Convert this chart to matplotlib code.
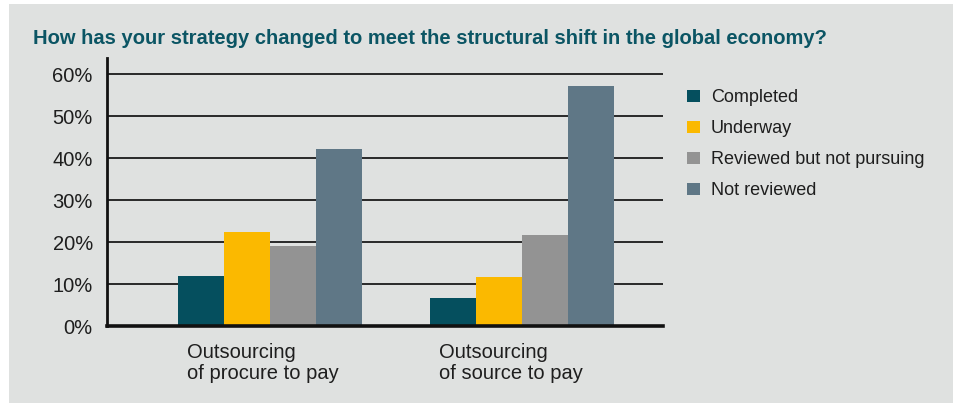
import matplotlib
matplotlib.use("Agg")
import matplotlib.pyplot as plt
from matplotlib.patches import Rectangle
import numpy as np

categories = ["Outsourcing\nof procure to pay", "Outsourcing\nof source to pay"]
series = ["Completed", "Underway", "Reviewed but not pursuing", "Not reviewed"]
completed = [12.0, 6.7]
underway = [22.4, 11.8]
reviewed = [19.0, 21.8]
not_reviewed = [42.3, 57.3]
yticks = [0, 10, 20, 30, 40, 50, 60]
ytick_labels = ["0%", "10%", "20%", "30%", "40%", "50%", "60%"]

colors = ["#054f5e", "#fbb900", "#939393", "#5f7786"]
panel = "#dfe1e0"
text_col = "#1e1e1e"
title_col = "#0b5564"

plt.rcParams["font.family"] = ["Liberation Sans", "DejaVu Sans"]

W, H = 954, 403
fig = plt.figure(figsize=(W / 100, H / 100), dpi=100)
fig.patch.set_facecolor("white")
# grey panel behind everything
fig.add_artist(Rectangle((9 / W, 0), 1 - 9 / W, 1 - 4 / H, transform=fig.transFigure,
                         facecolor=panel, edgecolor="none", zorder=0))

ax = fig.add_axes([106.7 / W, (H - 326) / H, (663 - 106.7) / W, (326 - 58) / H])
ax.set_facecolor("none")

x = np.arange(len(categories))
w = 0.183
values = [completed, underway, reviewed, not_reviewed]
for i, (vals, c, name) in enumerate(zip(values, colors, series)):
    ax.bar(x + (i - 1.5) * w, vals, width=w, color=c, label=name, zorder=3, linewidth=0)

ax.set_xlim(-0.648, 1.56)
ax.set_ylim(0, 63.9)
ax.set_yticks(yticks)
ax.set_yticklabels(ytick_labels, fontsize=14.5, color=text_col)
ax.tick_params(axis="y", length=0, pad=10)
ax.set_xticks([])
for yv in yticks[1:]:
    ax.axhline(yv, color="#1a1a1a", lw=1.3, zorder=1)

for s in ["top", "right"]:
    ax.spines[s].set_visible(False)
ax.spines["left"].set_linewidth(2)
ax.spines["bottom"].set_linewidth(2.6)
ax.spines["left"].set_color("#111111")
ax.spines["bottom"].set_color("#111111")
ax.spines["left"].set_zorder(4)
ax.spines["bottom"].set_zorder(4)

for xi, cat in zip(x, categories):
    ax.text(xi - 0.33, -0.065, cat, transform=ax.get_xaxis_transform(),
            ha="left", va="top", fontsize=14.5, color=text_col, linespacing=1.08)

leg = fig.legend(loc="upper left", bbox_to_anchor=(680 / W, 1 - 82 / H), frameon=False,
                 fontsize=13, labelcolor=text_col, handlelength=0.7, handleheight=0.7,
                 handletextpad=0.6, labelspacing=0.78, borderaxespad=0)

fig.text(33 / W, 1 - 39 / H, "How has your strategy changed to meet the structural shift in the global economy?",
         ha="left", va="center", fontsize=14.5, fontweight="bold", color=title_col)

fig.savefig("out.png", dpi=100, facecolor=fig.get_facecolor())
